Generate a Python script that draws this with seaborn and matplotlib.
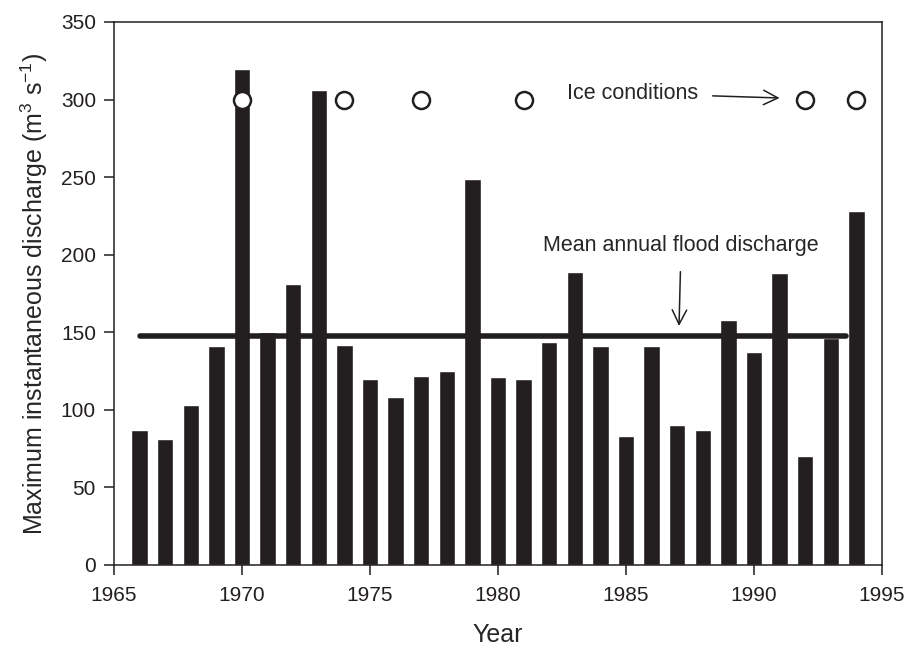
import numpy as np
import pandas as pd
import matplotlib
matplotlib.use("Agg")
import matplotlib.pyplot as plt
import seaborn as sns

# annual peak flows
years = list(range(1966, 1995))
discharge = [87, 81, 103, 141, 320, 150, 181, 306, 142, 120,
             108, 122, 125, 249, 121, 120, 144, 189, 141, 83,
             141, 90, 87, 158, 137, 188, 70, 146, 228]

# years where the peak happened under ice
ice_years = [1970, 1974, 1977, 1981, 1992, 1994]
ice_level = [300, 300, 300, 300, 300, 300]

# span of the mean line
mean_years = [1966, 1993.6]

df = pd.DataFrame({"year": years, "q": discharge})
ice = pd.DataFrame({"year": ice_years, "q": ice_level})
mean_q = np.mean(discharge)
mean_df = pd.DataFrame({"year": mean_years, "q": [mean_q] * len(mean_years)})

sns.set_style("ticks")
plt.rcParams['font.family'] = ['Liberation Sans', 'DejaVu Sans']
plt.rcParams['mathtext.fontset'] = 'custom'
plt.rcParams['mathtext.rm'] = 'Liberation Sans'
plt.rcParams['mathtext.it'] = 'Liberation Sans:italic'

fig = plt.figure(figsize=(9.08, 6.5), dpi=100)
ax = fig.add_axes([0.1256, 0.1308, 0.8458, 0.8354])

bar_col = '#231f20'
sns.barplot(data=df, x='year', y='q', native_scale=True, width=0.64,
            color=bar_col, saturation=1, ax=ax)
sns.lineplot(data=mean_df, x='year', y='q', color=bar_col, linewidth=4,
             solid_capstyle='round', ax=ax)
sns.scatterplot(data=ice, x='year', y='q', s=150, facecolor='white',
                edgecolor=bar_col, linewidth=1.8, zorder=5, ax=ax)

ax.set_xlim(1965, 1995)
ax.set_ylim(0, 350)
ax.set_xticks(range(1965, 1996, 5))
ax.set_yticks(range(0, 351, 50))

for s in ax.spines.values():
    s.set_visible(True)
    s.set_linewidth(1.1)
    s.set_color('#231f20')
ax.tick_params(direction='out', length=7, width=1.1, labelsize=15,
               colors='#231f20')
ax.tick_params(axis='x', pad=8)
ax.tick_params(axis='y', pad=6)

ax.set_xlabel('Year', fontsize=18, labelpad=13)
ax.set_ylabel('Maximum instantaneous discharge (m$^3$ s$^{-1}$)',
              fontsize=18, labelpad=8)

ax.annotate('Ice conditions', xy=(1991.0, 301), xytext=(1982.7, 304),
            fontsize=15.5, va='center', ha='left',
            arrowprops=dict(arrowstyle='->', color=bar_col, lw=1.1,
                            shrinkA=8, shrinkB=0, mutation_scale=26))
ax.annotate('Mean annual flood discharge', xy=(1987.07, 154), xytext=(1987.15, 206),
            fontsize=15.5, va='center', ha='center',
            arrowprops=dict(arrowstyle='->', color=bar_col, lw=1.1,
                            shrinkA=9, shrinkB=0, mutation_scale=26))

fig.savefig('out.png', dpi=100)
